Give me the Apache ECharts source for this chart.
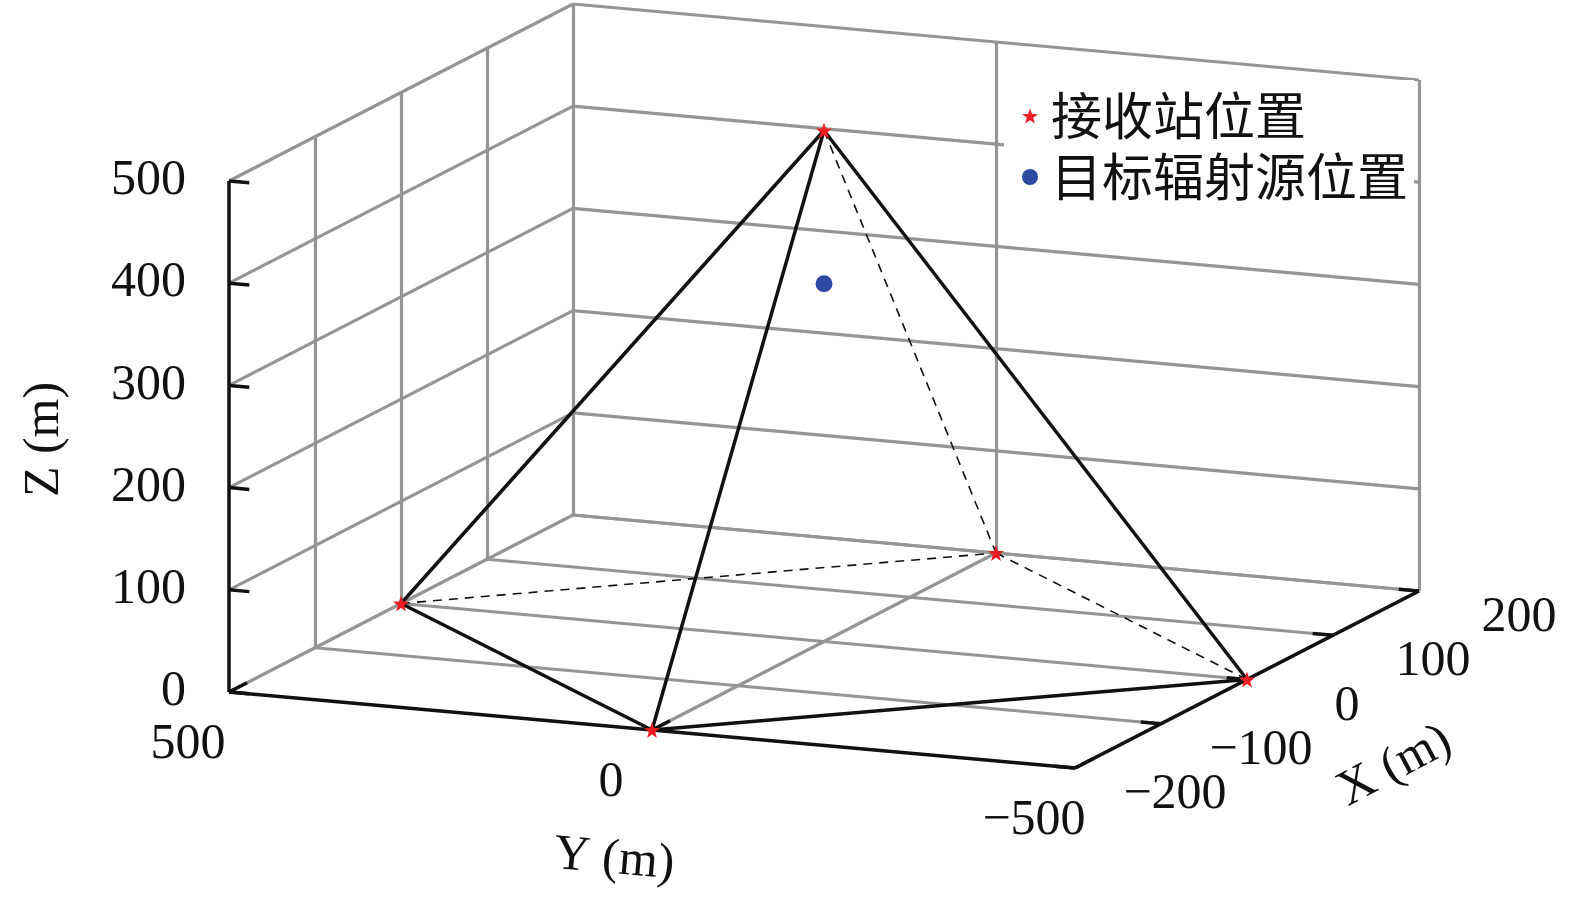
<!DOCTYPE html>
<html>
<head>
<meta charset="utf-8">
<title>接收站与目标辐射源位置</title>
<script src="https://cdn.jsdelivr.net/npm/echarts@6/dist/echarts.min.js"></script>
<style>
	html, body { margin: 0; padding: 0; background: #fff; }
	#box3d { width: 1575px; height: 900px; }
</style>
</head>
<body>
<div id="box3d"></div>
<script>
// 3D 坐标范围与刻度
var xRange = [-200, 200];
var yRange = [500, -500];
var zRange = [0, 500];
var xTicks = [-200, -100, 0, 100, 200];
var yTicks = [500, 0, -500];
var zTicks = [0, 100, 200, 300, 400, 500];
var xTickLabels = ['−200', '−100', '0', '100', '200'];
var yTickLabels = ['500', '0', '−500'];
var zTickLabels = ['0', '100', '200', '300', '400', '500'];

// 接收站位置 (X, Y, Z)
var stationX = [-200, 0, 200, 0, 0];
var stationY = [0, -500, 0, 500, 0];
var stationZ = [0, 0, 0, 0, 500];
// 目标辐射源位置
var targetX = [0];
var targetY = [0];
var targetZ = [350];
// 连线 (站点序号)
var solidPairs = [[4, 3], [4, 0], [4, 1], [3, 0], [0, 1]];
var dashedPairs = [[4, 2], [3, 2], [2, 1]];

// 投影: 画布像素作为二维坐标值
var origin = [229, 692];       // X=-200, Y=500, Z=0
var yVec = [846, 76];          // Y 从 500 到 -500
var xVec = [344, -177];        // X 从 -200 到 200
var zScale = 511 / 500;

function proj(x, y, z) {
	var u = (y - yRange[0]) / (yRange[1] - yRange[0]);
	var v = (x - xRange[0]) / (xRange[1] - xRange[0]);
	return [origin[0] + yVec[0] * u + xVec[0] * v,
	        origin[1] + yVec[1] * u + xVec[1] * v - zScale * (z - zRange[0])];
}
function seg(a, b) {
	return { coords: [proj(a[0], a[1], a[2]), proj(b[0], b[1], b[2])] };
}

// 网格线
var gridSegs = [];
zTicks.forEach(function (z) {
	gridSegs.push(seg([xRange[0], yRange[0], z], [xRange[1], yRange[0], z]));   // 左壁
	gridSegs.push(seg([xRange[1], yRange[0], z], [xRange[1], yRange[1], z]));   // 后壁
});
xTicks.forEach(function (x) {
	if (x > xRange[0]) {
		gridSegs.push(seg([x, yRange[0], 0], [x, yRange[0], zRange[1]]));        // 左壁竖线
		gridSegs.push(seg([x, yRange[0], 0], [x, yRange[1], 0]));                // 底面
	}
});
yTicks.forEach(function (y) {
	if (y < yRange[0]) {
		gridSegs.push(seg([xRange[1], y, 0], [xRange[1], y, zRange[1]]));        // 后壁竖线
		gridSegs.push(seg([xRange[0], y, 0], [xRange[1], y, 0]));                // 底面
	}
});

// 坐标轴与刻度
var tickY = 24, tickX = 21;
var axisSegs = [
	seg([xRange[0], yRange[0], zRange[0]], [xRange[0], yRange[0], zRange[1]]),
	seg([xRange[0], yRange[0], zRange[0]], [xRange[0], yRange[1], zRange[0]]),
	seg([xRange[0], yRange[1], zRange[0]], [xRange[1], yRange[1], zRange[0]])
];
zTicks.forEach(function (z) {
	axisSegs.push(seg([xRange[0], yRange[0], z], [xRange[0], yRange[0] - tickY, z]));
});
yTicks.forEach(function (y) {
	axisSegs.push(seg([xRange[0], y, 0], [xRange[0] + tickX, y, 0]));
});
xTicks.forEach(function (x) {
	axisSegs.push(seg([x, yRange[1], 0], [x, yRange[1] + tickY, 0]));
});

function station(i) { return [stationX[i], stationY[i], stationZ[i]]; }
var solidSegs = solidPairs.map(function (p) { return seg(station(p[0]), station(p[1])); });
var dashedSegs = dashedPairs.map(function (p) { return seg(station(p[0]), station(p[1])); });

var stationPts = stationX.map(function (x, i) { return proj(x, stationY[i], stationZ[i]); });
var targetPts = targetX.map(function (x, i) { return proj(x, targetY[i], targetZ[i]); });

// 刻度标签
function shift(p, dx, dy) { return [p[0] + dx, p[1] + dy]; }
var tickLabelData = [];
zTicks.forEach(function (z, i) {
	tickLabelData.push({ name: zTickLabels[i], value: shift(proj(xRange[0], yRange[0], z), -43, 0),
		label: { align: 'right' } });
});
yTicks.forEach(function (y, i) {
	tickLabelData.push({ name: yTickLabels[i], value: shift(proj(xRange[0], y, 0), -41, 53) });
});
xTicks.forEach(function (x, i) {
	tickLabelData.push({ name: xTickLabels[i], value: shift(proj(x, yRange[1], 0), 100, 27) });
});
var nameData = [
	{ name: 'Z (m)', value: shift(proj(xRange[0], yRange[0], 250), -184, 3), label: { rotate: 90 } },
	{ name: 'Y (m)', value: shift(proj(xRange[0], 0, 0), -38, 130), label: { rotate: -5 } },
	{ name: 'X (m)', value: shift(proj(0, yRange[1], 0), 148, 87), label: { rotate: 28 } }
];

var starPath = 'path://M0,-10L2.35,-3.24L9.51,-3.09L3.8,1.24L5.88,8.09L0,4L-5.88,8.09L-3.8,1.24L-9.51,-3.09L-2.35,-3.24Z';
var serif = '"Liberation Serif", "Times New Roman", serif';

var chart = echarts.init(document.getElementById('box3d'));
var option = {
	animation: false,
	backgroundColor: '#fff',
	grid: { left: 0, right: 0, top: 0, bottom: 0 },
	xAxis: { type: 'value', min: 0, max: 1575, show: false },
	yAxis: { type: 'value', min: 0, max: 900, inverse: true, show: false },
	legend: {
		orient: 'vertical',
		left: 1004,
		top: 80,
		padding: [8, 6, 8, 18],
		backgroundColor: '#fff',
		itemWidth: 16,
		itemHeight: 16,
		itemGap: 5,
		textStyle: {
			fontFamily: '"Noto Sans CJK SC"',
			fontSize: 51,
			lineHeight: 56,
			color: '#111',
			padding: [0, 0, 0, 8]
		},
		data: [
			{ name: '接收站位置', icon: starPath, itemStyle: { color: '#ec1c24', opacity: 1 } },
			{ name: '目标辐射源位置', icon: 'circle', itemStyle: { color: '#2b4ba3', opacity: 1 } }
		]
	},
	series: [
		{
			name: 'grid',
			type: 'lines',
			coordinateSystem: 'cartesian2d',
			silent: true,
			z: 1,
			lineStyle: { color: '#959595', width: 3.2, opacity: 1 },
			data: gridSegs
		},
		{
			name: 'axes',
			type: 'lines',
			coordinateSystem: 'cartesian2d',
			silent: true,
			z: 2,
			lineStyle: { color: '#111', width: 3.5, opacity: 1 },
			data: axisSegs
		},
		{
			name: 'solid',
			type: 'lines',
			coordinateSystem: 'cartesian2d',
			silent: true,
			z: 3,
			lineStyle: { color: '#111', width: 3.5, opacity: 1 },
			data: solidSegs
		},
		{
			name: 'dashed',
			type: 'lines',
			coordinateSystem: 'cartesian2d',
			silent: true,
			z: 3,
			lineStyle: { color: '#111', width: 1.6, type: [9, 7], opacity: 1 },
			data: dashedSegs
		},
		{
			name: '接收站位置',
			type: 'scatter',
			z: 5,
			symbol: starPath,
			symbolSize: 16,
			itemStyle: { color: '#ec1c24', opacity: 1 },
			data: stationPts
		},
		{
			name: '目标辐射源位置',
			type: 'scatter',
			z: 5,
			symbol: 'circle',
			symbolSize: 17,
			itemStyle: { color: '#2b4ba3', opacity: 1 },
			data: targetPts
		},
		{
			name: 'ticklabels',
			type: 'scatter',
			silent: true,
			z: 6,
			symbolSize: 0,
			itemStyle: { opacity: 1 },
			label: {
				show: true,
				position: 'inside',
				formatter: '{b}',
				align: 'center',
				verticalAlign: 'middle',
				fontFamily: serif,
				fontSize: 50,
				color: '#111'
			},
			data: tickLabelData.concat(nameData)
		}
	]
};
chart.setOption(option);

setTimeout(function () {
	window.onresize = function () {
		chart.resize();
	}
}, 200)
</script>
</body>
</html>
